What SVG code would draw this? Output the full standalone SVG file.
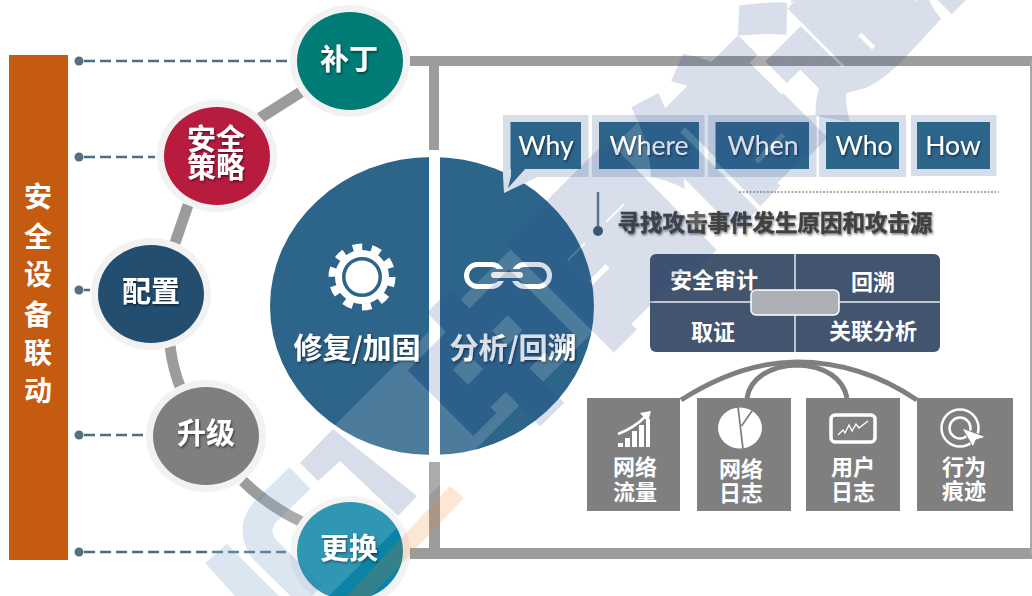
<svg xmlns="http://www.w3.org/2000/svg" width="1032" height="596" viewBox="0 0 1032 596">
<style>
text{font-family:"Noto Sans CJK SC","Noto Sans",sans-serif;font-weight:700;fill:#fff;text-anchor:middle}
.ring{fill:#f2f2f2}
.lead{stroke:#4f6d80;stroke-width:2.5;stroke-dasharray:11 5;fill:none}
.dot{fill:#55707f}
.link{stroke:#9c9c9c;stroke-width:11;fill:none}
.frame{fill:#9c9c9c}
.halo{fill:#d6deea}
.q{fill:#2d6489}
.ql{font-family:Lato,"Open Sans",sans-serif;font-weight:400;font-size:26.500px}
.n{font-size:29px}
.m{font-size:29px}
.p{font-size:22px}
.b{font-size:22px}
.tile{fill:#7f7f7f}
.arc{stroke:#7f7f7f;stroke-width:5;fill:none}
</style>
<defs>
<filter id="sh" x="-20%" y="-20%" width="140%" height="140%"><feDropShadow dx="1" dy="1.5" stdDeviation="0.8" flood-color="#000" flood-opacity="0.55"/></filter>
<filter id="wm" filterUnits="userSpaceOnUse" x="0" y="0" width="1032" height="596" color-interpolation-filters="sRGB"><feColorMatrix type="matrix" values="1 0 0 0 0 0 1 0 0 0 0 0 1 0 0 -0.0356 0 0 0.1856 0"/></filter>
</defs>
<rect width="1032" height="596" fill="#fff"/>

<g id="frame">
<rect class="frame" x="410" y="56" width="622" height="10"/>
<rect class="frame" x="429" y="56" width="10" height="94"/>
<rect class="frame" x="429" y="462" width="11" height="97"/>
<rect class="frame" x="410" y="548" width="622" height="11"/>
<rect x="1030" y="60" width="2" height="495" fill="#a8a8a8"/>
</g>

<g id="side-bar">
<rect x="9" y="55" width="59" height="505" fill="#c55a11"/>
<text x="38" y="207" font-size="28">安</text>
<text x="38" y="247" font-size="28">全</text>
<text x="38" y="285" font-size="28">设</text>
<text x="38" y="325" font-size="28">备</text>
<text x="38" y="363" font-size="28">联</text>
<text x="38" y="401" font-size="28">动</text>
</g>

<g id="connectors">
<path class="lead" d="M84 61H288M84 157H155M84 290H90M84 435H147M84 552H286"/>
<circle class="dot" cx="79" cy="61" r="4.5"/>
<circle class="dot" cx="79" cy="157" r="4.5"/>
<circle class="dot" cx="79" cy="290" r="4.5"/>
<circle class="dot" cx="79" cy="435" r="4.5"/>
<circle class="dot" cx="79" cy="552" r="4.5"/>
<path class="link" d="M301 92L260 118"/>
<path class="link" d="M188 205L175 243"/>
<path class="link" d="M170 346Q173 370 181 389"/>
<path class="link" d="M243 481Q268 506 302 522"/>
<path class="arc" d="M681 400C720 375 760 362 797 362C840 362 880 375 917 400"/>
<path class="arc" d="M747 398C750 378 770 366 797 365C825 366 843 378 847 398"/>
</g>

<g id="node-patch">
<ellipse class="ring" cx="350" cy="61" rx="60" ry="56"/>
<ellipse cx="350" cy="61" rx="53" ry="49" fill="#007b76"/>
<text class="n" x="349" y="70" filter="url(#sh)">补丁</text>
</g>
<g id="node-policy">
<ellipse class="ring" cx="217" cy="156" rx="60" ry="56"/>
<ellipse cx="217" cy="156" rx="53" ry="49" fill="#b71c3f"/>
<text class="n" x="216" y="150" filter="url(#sh)">安全</text>
<text class="n" x="216" y="178" filter="url(#sh)">策略</text>
</g>
<g id="node-config">
<ellipse class="ring" cx="151" cy="294" rx="60" ry="56"/>
<ellipse cx="151" cy="294" rx="53" ry="49" fill="#234e70"/>
<text class="n" x="151" y="302" filter="url(#sh)">配置</text>
</g>
<g id="node-upgrade">
<ellipse class="ring" cx="206" cy="436" rx="60" ry="56"/>
<ellipse cx="206" cy="436" rx="53" ry="49" fill="#7f7f7f"/>
<text class="n" x="206" y="444" filter="url(#sh)">升级</text>
</g>
<g id="node-replace">
<ellipse class="ring" cx="350" cy="552" rx="60" ry="56"/>
<ellipse cx="350" cy="551" rx="53" ry="49" fill="#0a83a5"/>
<text class="n" x="349" y="559" filter="url(#sh)">更换</text>
</g>

<g id="main-circle">
<ellipse class="q" cx="432" cy="306" rx="162" ry="149"/>
<rect x="429" y="150" width="11" height="312" fill="#fff"/>
<circle cx="362" cy="277" r="30" fill="none" stroke="#fff" stroke-width="7" stroke-dasharray="9.4 9.45"/>
<circle cx="362" cy="277" r="23.5" fill="none" stroke="#fff" stroke-width="7"/>
<circle cx="362" cy="277" r="16.5" fill="#fff"/>
<rect x="466.5" y="264.5" width="36" height="22" rx="11" fill="none" stroke="#fff" stroke-width="5"/>
<rect x="513.5" y="264.5" width="36" height="22" rx="11" fill="none" stroke="#fff" stroke-width="5"/>
<rect x="488" y="269" width="38" height="12" rx="6" fill="#2d6489"/>
<rect x="491" y="272" width="32" height="6" rx="3" fill="#e6e6e6"/>
<text class="m" x="357" y="359" filter="url(#sh)">修复/加固</text>
<text class="m" x="513" y="359" filter="url(#sh)">分析/回溯</text>
</g>

<g id="questions">
<path class="halo" d="M503 176L504 193L540 176Z"/>
<g id="q-why"><rect class="halo" x="503" y="115" width="85.500" height="62"/><rect class="q" x="510.500" y="122" width="70.500" height="47"/><text class="ql" x="546" y="155" filter="url(#sh)">Why</text></g>
<g id="q-where"><rect class="halo" x="592" y="115" width="112.500" height="62"/><rect class="q" x="599" y="122" width="100" height="47"/><text class="ql" x="649" y="155" filter="url(#sh)">Where</text></g>
<g id="q-when"><rect class="halo" x="708" y="115" width="108.500" height="62"/><rect class="q" x="715.500" y="122" width="93.500" height="47"/><text class="ql" x="763" y="155" filter="url(#sh)">When</text></g>
<g id="q-who"><rect class="halo" x="819" y="115" width="87" height="62"/><rect class="q" x="826" y="122" width="73" height="47"/><text class="ql" x="864" y="155" filter="url(#sh)">Who</text></g>
<g id="q-how"><rect class="halo" x="911" y="115" width="85.500" height="61"/><rect class="q" x="917" y="122" width="73" height="47"/><text class="ql" x="953" y="155" filter="url(#sh)">How</text></g>
<path class="q" d="M511 168H526L508 188L511 176Z"/>
</g>

<g id="heading">
<path d="M739 192H999" stroke="#8c97a0" stroke-width="1.500" stroke-dasharray="2 1.500" fill="none"/>
<path d="M598 192V228" stroke="#6b7f8c" stroke-width="2.500" fill="none"/>
<circle cx="598" cy="231" r="5" fill="#3e5a6e"/>
<text x="775" y="231" font-size="22.500" style="fill:#404040;stroke:#404040;stroke-width:.5" filter="url(#sh)">寻找攻击事件发生原因和攻击源</text>
</g>

<g id="panel">
<rect x="650" y="254" width="290" height="98" rx="6" fill="#43546e"/>
<path d="M795 254V352M650 302H940" stroke="#e8eaee" stroke-width="1.500" fill="none"/>
<rect x="751" y="290" width="88" height="25" rx="5" fill="#adb0b7" stroke="#fff" stroke-width="1.500"/>
<text class="p" x="714" y="288">安全审计</text>
<text class="p" x="873" y="290">回溯</text>
<text class="p" x="713" y="340">取证</text>
<text class="p" x="873" y="339">关联分析</text>
</g>

<g id="tile-traffic">
<rect class="tile" x="587" y="398" width="93" height="113"/>
<g fill="#fff"><rect x="618" y="443" width="5" height="4"/><rect x="625" y="438" width="5" height="9"/><rect x="632" y="431" width="5" height="16"/><rect x="639" y="425" width="5" height="22"/><rect x="646" y="419" width="4" height="28"/></g>
<path d="M618 434Q634 428 646 416" stroke="#fff" stroke-width="2.500" fill="none"/>
<path d="M640 413L651 411L648 422Z" fill="#fff"/>
<text class="b" x="635" y="475">网络</text>
<text class="b" x="635" y="500">流量</text>
</g>
<g id="tile-netlog">
<rect class="tile" x="697" y="398" width="94" height="113"/>
<ellipse cx="740" cy="428" rx="22" ry="20.500" fill="#fff"/>
<path d="M738 407L743 449M741.500 426L752 411" stroke="#7f7f7f" stroke-width="1.800" fill="none"/>
<text class="b" x="741" y="477">网络</text>
<text class="b" x="741" y="501">日志</text>
</g>
<g id="tile-userlog">
<rect class="tile" x="806" y="398" width="94" height="113"/>
<rect x="831" y="415" width="44" height="27" rx="4" fill="none" stroke="#fff" stroke-width="3.500"/>
<path d="M838 435L843 430L845 433L849 425L852 431L856 424L859 428L868 421" stroke="#fff" stroke-width="1.300" fill="none"/>
<text class="b" x="853" y="475">用户</text>
<text class="b" x="853" y="500">日志</text>
</g>
<g id="tile-behavior">
<rect class="tile" x="917" y="398" width="96" height="113"/>
<circle cx="960" cy="428" r="18.500" fill="none" stroke="#fff" stroke-width="2.500"/>
<circle cx="960" cy="428" r="10.500" fill="none" stroke="#fff" stroke-width="2.500"/>
<path d="M962 428L986 437L976 440L973 447Z" fill="#fff" stroke="#7f7f7f" stroke-width="1"/>
<text class="b" x="964" y="475">行为</text>
<text class="b" x="964" y="499">痕迹</text>
</g>

<g id="watermark">
<g filter="url(#wm)">
<path d="M760 0H925L329 596H164Z" fill="#fff"/>
<text transform="translate(482,457) rotate(-45)" font-size="160" style="fill:rgb(40,70,140);text-anchor:start;font-weight:900;stroke:rgb(40,70,140);stroke-width:9;stroke-linejoin:miter">中国信通院</text>
</g>
<g opacity="0.18">
<path d="M205 563L227 544L279 596H235Z" fill="#3f7ab8"/>
<path d="M300 478L265 512Q250 530 265 550L312 596" stroke="#3f7ab8" stroke-width="30" fill="none"/>
<path d="M300 463L333 429L417 496L398 516L340 461L318 481Z" fill="#28468c"/>
<path d="M450 486L464 498L371 596H347Z" fill="#f07d1e"/>
</g>
</g>
</svg>
